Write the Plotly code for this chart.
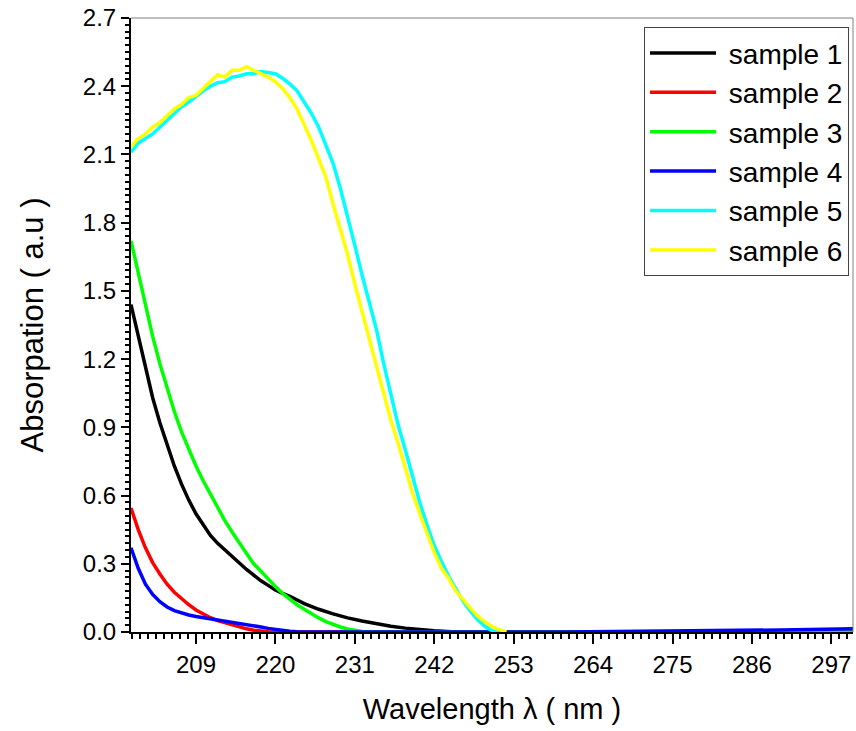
import plotly.graph_objects as go

# ---- data ----
wl_s1 = [200, 201, 202, 203, 204, 205, 206, 207, 208, 209, 210, 211, 212, 213, 214, 215, 216, 217, 218, 219, 220,
         221, 222, 224, 226, 228, 230, 232, 234, 236, 238, 240, 242, 245, 260, 300]
abs_s1 = [1.44, 1.30, 1.16, 1.03, 0.92, 0.82, 0.73, 0.65, 0.58, 0.52, 0.47, 0.425, 0.39, 0.36, 0.33, 0.30, 0.275,
          0.25, 0.225, 0.205, 0.185, 0.17, 0.157, 0.125, 0.10, 0.08, 0.062, 0.048, 0.035, 0.025, 0.017, 0.01,
          0.005, 0.0, 0.0, 0.0]

wl_s2 = [200, 201, 202, 203, 204, 205, 206, 207, 208, 209, 210, 211, 212, 213, 214, 215, 216, 217, 218, 219, 220, 300]
abs_s2 = [0.545, 0.45, 0.37, 0.305, 0.255, 0.21, 0.175, 0.145, 0.12, 0.097, 0.078, 0.063, 0.05, 0.04, 0.03, 0.021,
          0.014, 0.008, 0.004, 0.001, 0.0, 0.0]

wl_s3 = [200, 201, 202, 203, 204, 205, 206, 207, 208, 209, 210, 211, 212, 213, 214, 215, 216, 217, 218, 219, 220,
         221, 222, 223, 224, 225, 226, 227, 228, 229, 230, 231, 232, 233, 300]
abs_s3 = [1.72, 1.58, 1.44, 1.30, 1.18, 1.07, 0.97, 0.88, 0.80, 0.73, 0.665, 0.605, 0.545, 0.49, 0.44, 0.39, 0.345,
          0.30, 0.265, 0.23, 0.20, 0.17, 0.145, 0.12, 0.10, 0.08, 0.062, 0.046, 0.033, 0.022, 0.013, 0.006, 0.002,
          0.0, 0.0]

wl_s4 = [200, 201, 202, 203, 204, 205, 206, 207, 208, 209, 210, 211, 212, 213, 214, 215, 216, 217, 218, 219, 220,
         221, 222, 223, 224, 260, 270, 280, 290, 300]
abs_s4 = [0.37, 0.28, 0.21, 0.165, 0.133, 0.11, 0.094, 0.083, 0.075, 0.068, 0.063, 0.058, 0.054, 0.05, 0.045, 0.04,
          0.034, 0.028, 0.022, 0.016, 0.011, 0.006, 0.003, 0.001, 0.0, 0.0, 0.002, 0.005, 0.009, 0.014]

wl_s5 = [200, 201, 202, 203, 204, 205, 206, 207, 208, 209, 210, 211, 212, 213, 214, 215, 216, 217, 218, 219, 220,
         221, 222, 223, 224, 225, 226, 227, 228, 229, 230, 231, 232, 233, 234, 235, 236, 237, 238, 239, 240,
         241, 242, 243, 244, 245, 246, 247, 248, 249, 250, 251]
abs_s5 = [2.11, 2.15, 2.17, 2.19, 2.22, 2.25, 2.285, 2.31, 2.33, 2.355, 2.38, 2.40, 2.415, 2.42, 2.44, 2.445, 2.455,
          2.455, 2.465, 2.46, 2.455, 2.435, 2.41, 2.38, 2.33, 2.28, 2.22, 2.14, 2.06, 1.95, 1.83, 1.70, 1.57, 1.45,
          1.33, 1.18, 1.04, 0.91, 0.80, 0.68, 0.57, 0.47, 0.38, 0.31, 0.245, 0.19, 0.135, 0.092, 0.055, 0.025,
          0.006, 0.0]

wl_s6 = [200, 201, 202, 203, 204, 205, 206, 207, 208, 209, 210, 211, 212, 213, 214, 215, 216, 217, 218, 219, 220,
         221, 222, 223, 224, 225, 226, 227, 228, 229, 230, 231, 232, 233, 234, 235, 236, 237, 238, 239, 240,
         241, 242, 243, 244, 245, 246, 247, 248, 249, 250, 251, 252]
abs_s6 = [2.135, 2.17, 2.19, 2.22, 2.24, 2.27, 2.30, 2.32, 2.35, 2.36, 2.39, 2.42, 2.45, 2.44, 2.47, 2.47, 2.486,
          2.47, 2.455, 2.44, 2.42, 2.39, 2.35, 2.30, 2.23, 2.16, 2.08, 2.00, 1.88, 1.77, 1.66, 1.53, 1.41, 1.29,
          1.17, 1.04, 0.93, 0.83, 0.72, 0.61, 0.52, 0.43, 0.35, 0.28, 0.235, 0.18, 0.14, 0.105, 0.07, 0.045,
          0.025, 0.01, 0.0]

series_names = ["sample 1", "sample 2", "sample 3", "sample 4", "sample 5", "sample 6"]
series_x = [wl_s1, wl_s2, wl_s3, wl_s4, wl_s5, wl_s6]
series_y = [abs_s1, abs_s2, abs_s3, abs_s4, abs_s5, abs_s6]
colors = ["#000000", "#FF0000", "#00FF00", "#0000FF", "#00FFFF", "#FFFF00"]

FONT = "Arial, Liberation Sans, sans-serif"

fig = go.Figure()
for name, xs, ys, c in zip(series_names, series_x, series_y, colors):
    fig.add_trace(go.Scatter(x=xs, y=ys, mode="lines", name="\u00a0" + name, legendgroup=name,
                             line=dict(color=c, width=3.5)))

fig.update_layout(
    width=856, height=731,
    margin=dict(l=131, r=3, t=18, b=99),
    paper_bgcolor="white", plot_bgcolor="white",
    font=dict(family=FONT, color="black", size=24),
    showlegend=True,
    legend=dict(x=0.9945, xanchor="right", y=0.985, yanchor="top",
                bordercolor="#444444", borderwidth=1, bgcolor="white",
                font=dict(size=28, family=FONT), itemwidth=66,
                tracegroupgap=0, traceorder="normal"),
)

fig.update_xaxes(
    range=[200, 300], tick0=198, dtick=11, showgrid=False, zeroline=False,
    showline=True, linecolor="black", linewidth=2,
    ticks="outside", ticklen=10, tickwidth=2, tickcolor="black",
    tickfont=dict(size=24, family=FONT),
    minor=dict(dtick=1.1, tick0=198, ticks="outside", ticklen=5, tickwidth=2, tickcolor="black"),
    title=dict(text="Wavelength λ ( nm )", font=dict(size=29, family=FONT), standoff=22),
)
fig.update_yaxes(
    range=[0, 2.7], tick0=0, dtick=0.3, tickformat=".1f", showgrid=False, zeroline=False,
    showline=True, linecolor="black", linewidth=2,
    ticks="outside", ticklen=8, tickwidth=2, tickcolor="black",
    tickfont=dict(size=24, family=FONT),
    minor=dict(dtick=0.03, ticks="outside", ticklen=4, tickwidth=2, tickcolor="black"),
    title=dict(text="Absorpation ( a.u )", font=dict(size=31, family=FONT), standoff=30),
)

# thin grey frame on top and right
fig.add_shape(type="line", xref="paper", yref="paper", x0=0, x1=1, y0=1, y1=1,
              line=dict(color="#808080", width=1))
fig.add_shape(type="line", xref="paper", yref="paper", x0=1, x1=1, y0=0, y1=1,
              line=dict(color="#808080", width=1))

fig.write_html("out.html")
